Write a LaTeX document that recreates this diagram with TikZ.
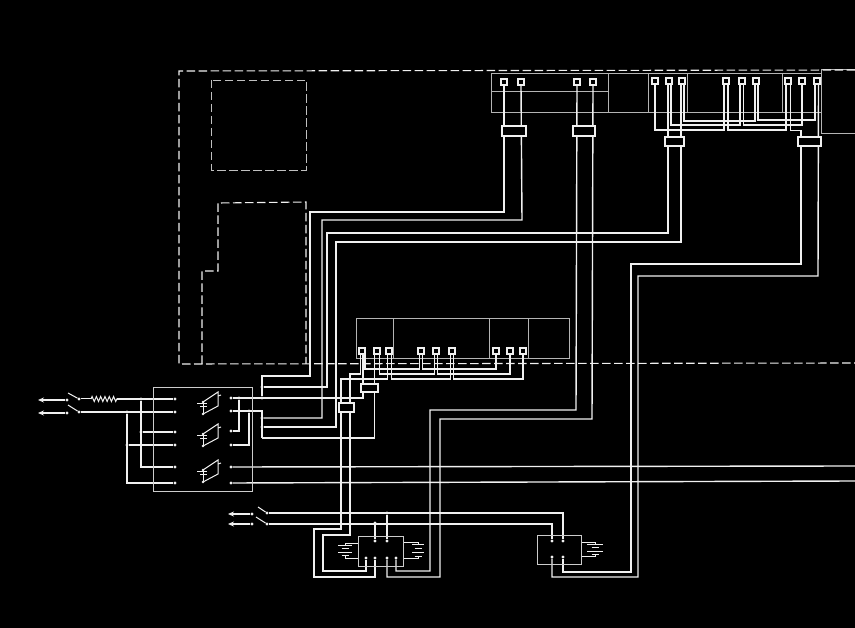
\documentclass[tikz,border=0pt]{standalone}
\usepackage{tikz}
\usetikzlibrary{arrows.meta,backgrounds,decorations.pathmorphing}
\definecolor{wirewhite}{HTML}{F0F0F0}
\definecolor{cellgrey}{HTML}{B4B4B4}
\tikzset{
  wire/.style={draw=wirewhite, line width=1.4pt},
  fine/.style={draw=wirewhite, line width=1pt},
  cellline/.style={draw=cellgrey, line width=1pt},
  dashline/.style={draw=wirewhite, line width=1.1pt, dash pattern=on 8.5pt off 3.5pt},
  dashinner/.style={draw=wirewhite!80!black, line width=0.75pt, dash pattern=on 8.5pt off 3.5pt},
  termbox/.style={draw=wirewhite, fill=black, line width=1.1pt, minimum width=6pt, minimum height=6pt, inner sep=0pt, outer sep=0pt},
  connbox/.style={draw=wirewhite, fill=black, line width=1.4pt, inner sep=0pt, outer sep=0pt},
  framebox/.style={draw=wirewhite!85!black, line width=1pt, inner sep=0pt, outer sep=0pt},
  jdot/.style={circle, fill=wirewhite, inner sep=0pt, minimum size=3.4pt, outer sep=0pt},
  feedarrow/.style={wire, -{Stealth[length=6pt,width=5pt]}}
}
\newcommand{\battstack}[7]{%
  \draw[fine] (#1-#3,#2) -- (#1+#3,#2);
  \draw[fine] (#1-#4,#2+#5) -- (#1+#4,#2+#5);
  \draw[fine] (#1-#3,#2+#6) -- (#1+#3,#2+#6);
  \draw[fine] (#1-#4,#2+#7) -- (#1+#4,#2+#7);
}
\begin{document}
\begin{tikzpicture}[x=1pt,y=-1pt]
\useasboundingbox (0,0) rectangle (855,628);

% terminals, upper board
\foreach \n/\x in {1/504,2/521,3/577,4/593}
  \node[termbox] (tu\n) at (\x,82) {};
\foreach \n/\x in {1/655,2/669,3/682,4/726,5/742,6/756,7/788,8/802,9/817}
  \node[termbox] (tv\n) at (\x,81) {};
% terminals, middle board
\foreach \n/\x in {1/362,2/377,3/389,4/421,5/436,6/452,7/496,8/510,9/523}
  \node[termbox] (c\n) at (\x,351) {};

% connector sleeves
\node[connbox, minimum width=24pt, minimum height=10pt] (sleevea) at (514,131) {};
\node[connbox, minimum width=22pt, minimum height=10pt] (sleeveb) at (584,131) {};
\node[connbox, minimum width=19pt, minimum height=9pt] (sleevec) at (674.5,141.5) {};
\node[connbox, minimum width=23pt, minimum height=9pt] (sleeved) at (809.5,141.5) {};
\node[connbox, minimum width=17pt, minimum height=8pt] (sleevee) at (369.5,388) {};
\node[connbox, minimum width=15pt, minimum height=9pt] (sleevef) at (346.5,407.5) {};

% control box and its dots
\node[framebox, minimum width=99pt, minimum height=104pt] (ctrl) at (203,440) {};
\foreach \n/\y in {a/399,b/412,c/432,d/445,e/467,f/483}
  \node[jdot] (in\n) at (175,\y) {};
\foreach \n/\y in {a/398,b/411,c/431,d/445,e/467,f/483}
  \node[jdot] (out\n) at (231,\y) {};

% junctions
\node[jdot] (ja) at (141,399) {};
\node[jdot] (jb) at (127,412) {};
\node[jdot] (jc) at (141,432) {};
\node[jdot] (jd) at (127,445) {};
\node[jdot] (je) at (239,398) {};
\node[jdot] (jf) at (249,411) {};
\node[jdot] (jg) at (262,387) {};
\node[jdot] (jh) at (262,398) {};
\node[jdot] (ji) at (262,418) {};
\node[jdot] (jj) at (262,427) {};
\node[jdot] (jk) at (387,513) {};
\node[jdot] (jl) at (375,523) {};

% supply switches
\node[jdot] (swa) at (79,399) {};
\node[jdot] (swb) at (79,412) {};
\node[jdot] (feeda) at (67,400) {};
\node[jdot] (feedb) at (67,413) {};
\coordinate (bladea) at (68,393);
\coordinate (bladeb) at (68,405);
\coordinate (tipa) at (38,400);
\coordinate (tipb) at (38,413);
\coordinate (resl) at (91,399);
\coordinate (resr) at (117,399);

% battery boxes
\node[framebox, minimum width=45pt, minimum height=30pt] (boxl) at (380.5,551) {};
\node[framebox, minimum width=44pt, minimum height=29pt] (boxr) at (559,549.5) {};
\foreach \n/\x in {a/375,b/387} \node[jdot] (lt\n) at (\x,541) {};
\foreach \n/\x in {c/366,d/375,e/387,f/396} \node[jdot] (lt\n) at (\x,558) {};
\node[jdot] (rta) at (552,541) {};
\node[jdot] (rtb) at (563,541) {};
\node[jdot] (rtc) at (552,557) {};
\node[jdot] (rtd) at (563,557) {};
\node[jdot] (swc) at (267,513) {};
\node[jdot] (swd) at (267,524) {};
\node[jdot] (feedc) at (252,514) {};
\node[jdot] (feedd) at (252,524) {};
\coordinate (bladec) at (258,507);
\coordinate (bladed) at (256,517);
\coordinate (tipc) at (228,514);
\coordinate (tipd) at (228,524);

\coordinate (rune) at (855,466);
\coordinate (runf) at (855,481);

\begin{scope}[on background layer]
\fill[black] (0,0) rectangle (855,628);

% boards
\draw[cellline] (491,74) rectangle (821,113);
\draw[cellline] (491,92) -- (608,92);
\foreach \x in {608,648,687,782} \draw[cellline] (\x,74) -- (\x,113);
\draw[cellline] (855,70) -- (821,70) -- (821,134) -- (855,134);
\draw[cellline] (356,319) rectangle (569,359);
\foreach \x in {393,489,528} \draw[cellline] (\x,319) -- (\x,359);

% cabinet outlines
\draw[dashline] (855,70) -- (179,71) -- (179,364) -- (855,363);
\draw[dashinner] (211,80) rectangle (306,170);
\draw[dashline] (202,364) -- (202,271) -- (218,271) -- (218,203) -- (306,202) -- (306,364);

% supply side
\draw[feedarrow] (feeda) -- (tipa);
\draw[feedarrow] (feedb) -- (tipb);
\draw[fine] (bladea) -- (swa);
\draw[fine] (bladeb) -- (swb);
\draw[fine] (swa) -- (resl);
\draw[fine, decorate, decoration={zigzag,segment length=4.3pt,amplitude=2.5pt}] (resl) -- (resr);
\draw[wire] (resr) -- (ina);
\draw[wire] (swb) -- (inb);
\draw[wire] (ja) -- (141,467) -- (ine);
\draw[wire] (jc) -- (inc);
\draw[wire] (jb) -- (127,483) -- (inf);
\draw[wire] (jd) -- (ind);

% output side
\draw[wire] (je) -- (239,431) -- (outc);
\draw[wire] (jf) -- (249,445) -- (outd);
\draw[wire] (outb) -- (262,411) -- (262,438);
\draw[wire] (oute) -- (rune);
\draw[wire] (outf) -- (runf);
\draw[wire] (jh) -- (262,376) -- (310,376) -- (310,212) -| (tu1.south);
\draw[wire] (ji) -- (322,418) -- (322,220) -- (522,220) -- (tu2.south);
\draw[wire] (jg) -- (327,387) -- (327,233) -- (668,233) -- ([xshift=-1pt]tv2.south);
\draw[wire] (jj) -- (336,427) -- (336,242) -- (681,242) -- ([xshift=-1pt]tv3.south);

% middle board
\draw[wire] ([xshift=-1.5pt]c1.south) |- (350,374) -- (350,535) -- (323,535) -- (323,571) -| (ltc);
\draw[wire] ([xshift=1pt]c1.south) |- (outa);
\draw[wire] ([xshift=3pt]c1.south) |- (419.5,369) -- ([xshift=-1.5pt]c4.south);
\draw[wire] ([xshift=1.5pt]c4.south) |- (496,369) -- (c7.south);
\draw[wire] ([xshift=-2.5pt]c2.south) |- (262,438);
\draw[wire] ([xshift=2.5pt]c2.south) |- (434.5,374) -- ([xshift=-1.5pt]c5.south);
\draw[wire] ([xshift=1.5pt]c5.south) |- (510,374) -- (c8.south);
\draw[wire] ([xshift=-1.5pt]c3.south) |- (341,379) -- (341,529) -- (314,529) -- (314,577) -| (ltd);
\draw[wire] ([xshift=2.5pt]c3.south) |- (450.5,379) -- ([xshift=-1.5pt]c6.south);
\draw[wire] ([xshift=1.5pt]c6.south) |- (523,379) -- (c9.south);

% upper board
\draw[wire] (tv1.south) |- (724,130) -- ([xshift=-2pt]tv4.south);
\draw[wire] ([xshift=2pt]tv2.south) |- (740,125) -- ([xshift=-2pt]tv5.south);
\draw[wire] ([xshift=2pt]tv3.south) |- (755,121) -- ([xshift=-1pt]tv6.south);
\draw[wire] ([xshift=2pt]tv4.south) |- (786,130) -- ([xshift=-2pt]tv7.south);
\draw[wire] ([xshift=1.5pt]tv5.south) |- (802,125) -- (tv8.south);
\draw[wire] ([xshift=2pt]tv6.south) |- (815,120) -- ([xshift=-2pt]tv9.south);
\draw[wire] ([xshift=2.5pt]tv7.south) |- (801,130.5) -- (801,264) -- (631,264) -- (631,572) -| (rtd);
\draw[wire] ([xshift=1.5pt]tv9.south) -- (818,276) -- (638,276) -- (638,577) -| (rtc);

% lower wires
\draw[wire] (tu3.south) -- (576,410) -- (430,410) -- (430,571) -| (ltf);
\draw[wire] (tu4.south) -- (592,419) -- (440,419) -- (440,577) -| (lte);
\draw[wire] (swc) -| (rtb);
\draw[wire] (swd) -| (rta);
\draw[wire] (jk) -- (ltb);
\draw[wire] (jl) -- (lta);
\draw[feedarrow] (feedc) -- (tipc);
\draw[feedarrow] (feedd) -- (tipd);
\draw[fine] (bladec) -- (swc);
\draw[fine] (bladed) -- (swd);

% batteries
\draw[fine] (boxl.west |- 0,543) -- (345,543) -- (345,545);
\draw[fine] (345,555) -- (345,558) -- (boxl.west |- 0,558);
\battstack{345}{545}{7}{3.5}{3.5}{7}{10}
\draw[fine] (boxl.east |- 0,542) -- (418,542) -- (418,544);
\draw[fine] (418,556) -- (418,558) -- (boxl.east |- 0,558);
\battstack{418}{544}{6}{3.5}{4}{8}{12}
\draw[fine] (boxr.east |- 0,542) -- (595,542) -- (595,544);
\draw[fine] (595,554) -- (595,556) -- (boxr.east |- 0,556);
\battstack{595}{544}{8}{3.5}{3.5}{7}{10}

% thyristor symbols
\foreach \d in {0,32,68}{
  \draw[fine] (203,402+\d) -- (218,392+\d) -- (218,406+\d) -- (203,414+\d);
  \draw[fine] (218,396+\d) -- (221,395+\d);
  \draw[fine] (203,402+\d) -- (203,414+\d);
  \draw[fine] (197,404+\d) -- (207,404+\d);
  \draw[fine] (200,407+\d) -- (207,407+\d);
  \fill[wirewhite] (203,402+\d) circle (1.3pt) (203,414+\d) circle (1.3pt);
}
\end{scope}
\end{tikzpicture}
\end{document}
